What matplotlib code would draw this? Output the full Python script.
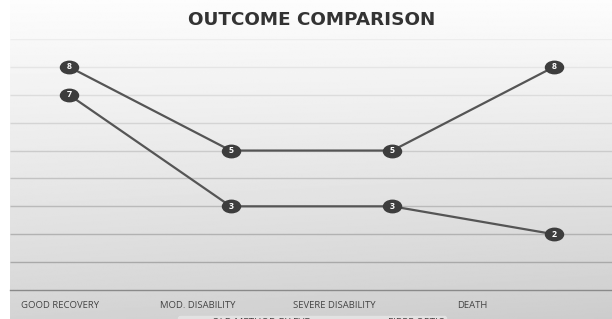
import numpy as np
import matplotlib
matplotlib.use("Agg")
import matplotlib.pyplot as plt
from matplotlib.path import Path
from matplotlib.transforms import Affine2D
from matplotlib.markers import MarkerStyle

categories = ["GOOD RECOVERY", "MOD. DISABILITY", "SEVERE DISABILITY", "DEATH"]
series_names = ["OLD METHOD BY EVD", "FIBRE OPTIC"]
old_evd = [8, 5, 5, 8]
fibre_optic = [7, 3, 3, 2]
title = "OUTCOME COMPARISON"

W, H = 612, 319
fig = plt.figure(figsize=(W / 100, H / 100), dpi=100)
fig.patch.set_facecolor("white")

# background gradient
bg = fig.add_axes([10 / W, 0, 1 - 10 / W, 1], zorder=0)
yy = np.linspace(0, 1, 256)[:, None]
xx = np.linspace(0, 1, 256)[None, :]
grad = 0.80 + 0.19 * yy ** 0.9 + 0.03 * (1 - xx) * (1 - yy)
grad = np.clip(grad, 0, 1)
bg.imshow(grad, cmap="gray", vmin=0, vmax=1, aspect="auto", origin="lower",
          extent=[0, 1, 0, 1], interpolation="bilinear")
bg.set_axis_off()

ax_left = 10 / W
ax_bottom = (H - 290) / H
ax_top = (H - 39) / H
ax = fig.add_axes([ax_left, ax_bottom, 1 - ax_left, ax_top - ax_bottom], zorder=2)
ax.patch.set_alpha(0)

x = np.arange(len(categories))
lab = ax.twiny()
lab.patch.set_alpha(0)

# point positions: 69, 231, 392, 554 px
sp = (554 - 69) / 3
ax.set_xlim(-(69 - 10) / sp, 3 + (612 - 554) / sp)
ax.set_ylim(0, 9)
ax.set_yticks([])
ax.set_xticks([])
levels = np.arange(1, 10)
grid_colors = [str(0.93 - 0.30 * (1 - lv / 9)) for lv in levels]
ax.hlines(levels, *ax.get_xlim(), colors=grid_colors, linewidth=1.0, zorder=1)
ax.tick_params(left=False, labelleft=False, bottom=False, labelbottom=False)
for s in ["left", "right", "top"]:
    ax.spines[s].set_visible(False)
ax.spines["bottom"].set_color("#8a8a8a")
ax.spines["bottom"].set_linewidth(1.0)

ell = Path.unit_circle().transformed(Affine2D().scale(1.45, 1.0))
mk = MarkerStyle(ell)

for vals, name in zip([old_evd, fibre_optic], series_names):
    ax.plot(x, vals, color="#555555", linewidth=1.6, marker=mk, markersize=13,
            markerfacecolor="#3d3d3d", markeredgecolor="#3d3d3d", label=name, zorder=3)
    for xi, v in zip(x, vals):
        ax.text(xi, v, str(v), color="white", fontsize=6.3, fontweight="bold",
                ha="center", va="center", zorder=4, family="Open Sans")

lsp = (472 - 60) / 3
lab.set_xlim(-(60 - 10) / lsp, 3 + (612 - 472) / lsp)
lab.set_xticks(x)
lab.set_xticklabels(categories, family="Open Sans", fontsize=6.8, color="#444444")
lab.xaxis.set_ticks_position("bottom")
lab.xaxis.set_label_position("bottom")
lab.tick_params(axis="x", length=0, pad=8, top=False)
lab.yaxis.set_visible(False)
for s in lab.spines.values():
    s.set_visible(False)

fig.text(312 / W, 1 - 20 / H, title, ha="center", va="center", fontsize=13.2,
         fontweight="bold", family="DejaVu Sans", color="#333333")

leg = fig.legend(loc="upper center", bbox_to_anchor=(312 / W, 1 - 311 / H), ncol=2,
                 frameon=True, prop={"family": "Open Sans", "size": 7},
                 facecolor="#e2e2e2", edgecolor="#e2e2e2", framealpha=1,
                 handlelength=2.5, columnspacing=4.5, borderpad=0.25,
                 markerscale=0.35)
for t in leg.get_texts():
    t.set_color("#444444")

fig.savefig("out.png", dpi=100)
